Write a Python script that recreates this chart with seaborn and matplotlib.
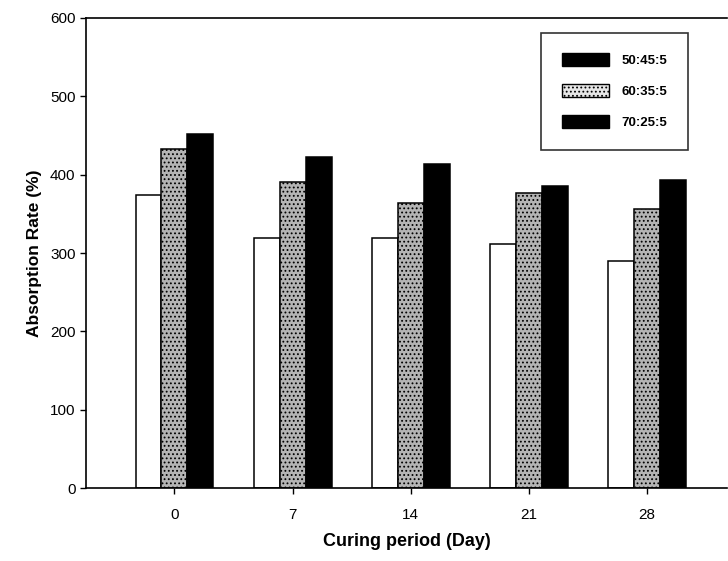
import numpy as np
import pandas as pd
import matplotlib.pyplot as plt
import seaborn as sns
from matplotlib.patches import Patch

sns.set_theme(style="ticks")
plt.rcParams["font.family"] = ["Liberation Sans", "DejaVu Sans"]
plt.rcParams["hatch.linewidth"] = 0.8
plt.rcParams["text.color"] = "black"
plt.rcParams["axes.labelcolor"] = "black"

days = ["0", "7", "14", "21", "28"]
mixes = ["50:45:5", "60:35:5", "70:25:5"]
rate_50 = [374, 319, 319, 312, 290]
rate_60 = [433, 391, 364, 376, 356]
rate_70 = [452, 422, 414, 386, 393]

df = pd.DataFrame({
    "Day": days * 3,
    "Mix": np.repeat(mixes, len(days)),
    "Rate": rate_50 + rate_60 + rate_70,
})

fig = plt.figure(figsize=(7.28, 5.61), dpi=100)
ax = fig.add_axes([0.118, 0.130, 0.881, 0.838])

fills = ["white", "#b4b4b4", "black"]
sns.barplot(data=df, x="Day", y="Rate", hue="Mix", order=days, hue_order=mixes,
            palette=fills, width=0.66, edgecolor="black", linewidth=1.1,
            saturation=1, errorbar=None, legend=False, ax=ax)

# stippled middle series
for bar in ax.containers[1]:
    bar.set_hatch("....")
    bar.set_edgecolor("black")

ax.set_ylim(0, 600)
ax.set_xlim(-0.75, 4.68)
ax.set_yticks(range(0, 601, 100))
ax.set_xlabel("Curing period (Day)", fontsize=13, fontweight="bold", labelpad=8)
ax.set_ylabel("Absorption Rate (%)", fontsize=12.5, fontweight="bold", labelpad=6)
ax.tick_params(axis="both", direction="out", length=4, width=1, labelsize=11,
               colors="black", labelcolor="black")
ax.tick_params(axis="x", pad=10)

ax.spines["right"].set_visible(False)
for s in ["left", "top", "bottom"]:
    ax.spines[s].set_color("black")
    ax.spines[s].set_linewidth(1.2)

handles = [
    Patch(facecolor="black", edgecolor="black"),
    Patch(facecolor="#e6e6e6", edgecolor="black", hatch="...."),
    Patch(facecolor="black", edgecolor="black"),
]
leg = ax.legend(handles, mixes, loc="upper right", bbox_to_anchor=(0.938, 0.968),
                prop={"weight": "bold", "size": 9.5}, frameon=True, fancybox=False,
                handlelength=3.6, handleheight=1.1, labelspacing=1.3,
                handletextpad=0.9, borderpad=1.55, borderaxespad=0)
leg.get_frame().set_edgecolor("black")
leg.get_frame().set_linewidth(1.2)

fig.savefig("out.png", dpi=100)
